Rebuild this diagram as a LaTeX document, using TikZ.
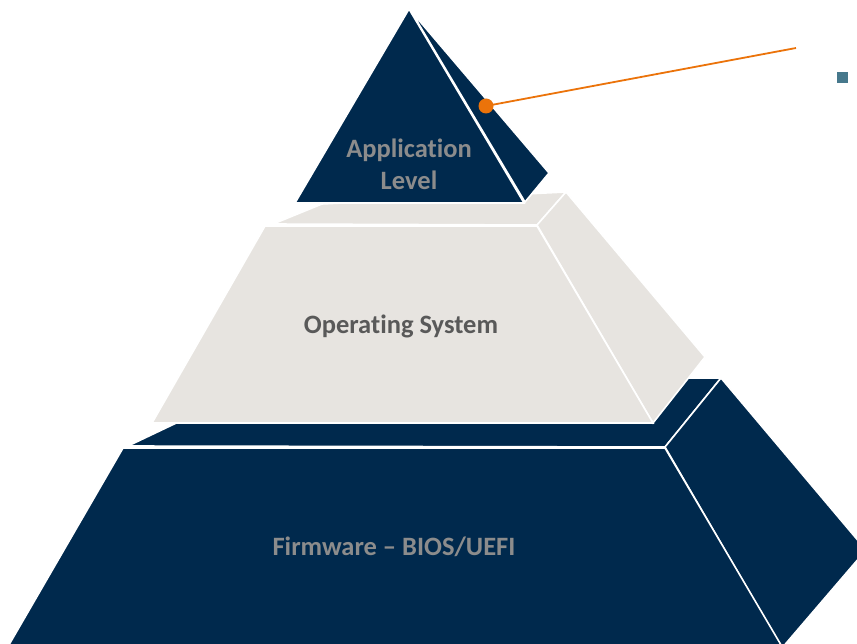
\documentclass[tikz,border=0pt]{standalone}
\usepackage{fontspec}
\setmainfont[Ligatures=NoCommon]{Carlito}
\definecolor{navy}{RGB}{0,41,77}
\definecolor{pale}{RGB}{231,228,224}
\definecolor{lblgray}{RGB}{140,140,140}
\definecolor{dkgray}{RGB}{89,89,89}
\definecolor{callout}{RGB}{235,115,10}
\definecolor{bullet}{RGB}{70,120,140}
\tikzset{
  face/.style={draw=white, line width=1.6pt, line join=miter},
  navyface/.style={face, fill=navy},
  paleface/.style={face, fill=pale},
  lbl/.style={font=\bfseries\fontsize{26.5}{32}\selectfont, align=center, inner sep=0pt},
}
\begin{document}
\begin{tikzpicture}[x=1pt,y=-1pt]
\useasboundingbox (0,0) rectangle (857,644);
\clip (0,0) rectangle (857,644);
% bottom layer
\draw[navyface] (128,446) -- (271,378) -- (721,378) -- (665,447) -- cycle;
\draw[navyface] (665,447) -- (721,378) -- (866,550) -- (782,648) -- cycle;
\draw[navyface] (123,448) -- (665,448) -- (784,650) -- (6,650) -- cycle;
% middle layer
\draw[paleface] (273,224) -- (322,204) -- (566,192) -- (537,225) -- cycle;
\draw[paleface] (537,225) -- (566,192) -- (705,357) -- (653,423) -- cycle;
\draw[paleface] (265,226) -- (537,226) -- (653,423) -- (152,423) -- cycle;
% top pyramid
\draw[navyface] (411,11) -- (549,173) -- (525,202) -- cycle;
\draw[navyface] (409,9) -- (524,203) -- (295,203) -- cycle;
% labels
\node[lbl, text=lblgray, anchor=base] (app) at (409,158) {Application};
\node[lbl, text=lblgray, anchor=base] (lev) at (409,190) {Level};
\node[lbl, text=dkgray, anchor=base] (os) at (401,334) {Operating System};
\node[lbl, text=lblgray, anchor=base] (fw) at (394,555) {Firmware – BIOS/UEFI};
% callout
\node[circle, fill=callout, minimum size=15pt, inner sep=0pt] (dot) at (486,106) {};
\coordinate (cend) at (796,48);
\draw[callout, line width=1.8pt] (dot.center) -- (cend);
\node[fill=bullet, minimum size=11pt, inner sep=0pt] (sq) at (842.5,77.5) {};
\end{tikzpicture}
\end{document}
